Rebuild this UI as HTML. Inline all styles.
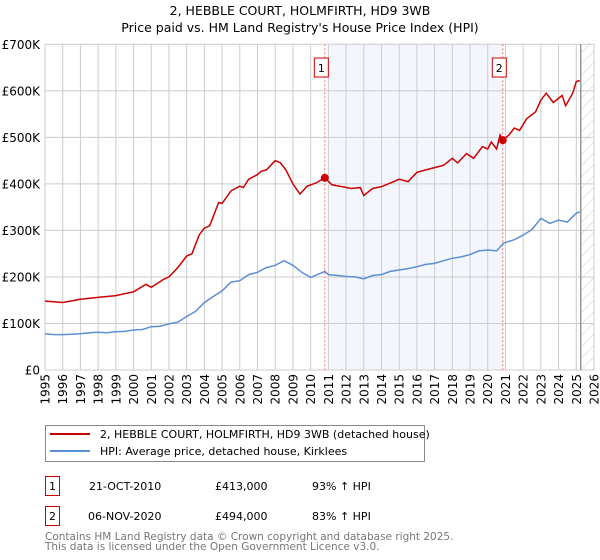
<!DOCTYPE html>
<html><head><meta charset="utf-8"><style>
body{margin:0;background:#fff;}
svg{display:block;font-family:"DejaVu Sans","Liberation Sans",sans-serif;}
</style></head><body>
<svg id="chart" width="600" height="560" viewBox="0 0 600 560" xmlns="http://www.w3.org/2000/svg">
<text x="300" y="15" text-anchor="middle" font-size="12.5">2, HEBBLE COURT, HOLMFIRTH, HD9 3WB</text>
<text x="300" y="32" text-anchor="middle" font-size="12.5">Price paid vs. HM Land Registry's House Price Index (HPI)</text>
<g id="plot"></g>
<g>
<rect x="45.5" y="425.5" width="379" height="36" fill="#fff" stroke="#888"/>
<line x1="50" y1="434" x2="90" y2="434" stroke="#cc0000" stroke-width="2"/>
<text x="100" y="438" font-size="11">2, HEBBLE COURT, HOLMFIRTH, HD9 3WB (detached house)</text>
<line x1="50" y1="451" x2="90" y2="451" stroke="#5b8fd4" stroke-width="2"/>
<text x="100" y="455" font-size="11">HPI: Average price, detached house, Kirklees</text>
</g>
<g font-size="11">
<rect x="45.5" y="476.5" width="14" height="19" fill="#fff" stroke="#cc0000"/>
<text x="52.5" y="490" text-anchor="middle">1</text>
<text x="89" y="490">21-OCT-2010</text><text x="215" y="490">£413,000</text><text x="312" y="490">93% ↑ HPI</text>
<rect x="45.5" y="506.5" width="14" height="19" fill="#fff" stroke="#cc0000"/>
<text x="52.5" y="520" text-anchor="middle">2</text>
<text x="88" y="520">06-NOV-2020</text><text x="215" y="520">£494,000</text><text x="312" y="520">83% ↑ HPI</text>
</g>
<text x="45" y="540" font-size="10.5" fill="#777">Contains HM Land Registry data © Crown copyright and database right 2025.</text>
<text x="45" y="550" font-size="10.5" fill="#777">This data is licensed under the Open Government Licence v3.0.</text>
</svg>
<script>
const hpiYears=[1995,1995.5,1996,1996.5,1997,1997.5,1998,1998.5,1999,1999.5,2000,2000.5,2001,2001.5,2002,2002.5,2003,2003.5,2004,2004.5,2005,2005.5,2006,2006.5,2007,2007.5,2008,2008.5,2009,2009.5,2010,2010.5,2010.8,2011,2011.5,2012,2012.5,2013,2013.5,2014,2014.5,2015,2015.5,2016,2016.5,2017,2017.5,2018,2018.5,2019,2019.5,2020,2020.5,2020.9,2021.5,2022,2022.5,2023,2023.5,2024,2024.5,2025,2025.2];
const hpiValues=[78,76,76,77,78,80,81,80,82,83,86,87,93,94,99,103,115,126,145,158,170,189,192,205,210,220,225,235,225,210,199,207,212,205,203,201,200,196,203,205,212,215,218,222,227,229,235,240,243,248,256,258,256,273,280,290,302,326,315,322,318,337,340];
const ppYears=[1995,1996,1997,1998,1999,2000,2000.7,2001,2001.7,2002,2002.5,2003,2003.3,2003.7,2004,2004.3,2004.8,2005,2005.5,2006,2006.2,2006.5,2007,2007.2,2007.5,2008,2008.3,2008.6,2009,2009.4,2009.8,2010.3,2010.8,2011.2,2011.8,2012.3,2012.8,2013,2013.5,2014,2014.7,2015,2015.5,2016,2016.5,2017,2017.5,2018,2018.3,2018.8,2019.2,2019.7,2020,2020.2,2020.5,2020.7,2020.85,2021.2,2021.5,2021.8,2022.2,2022.7,2023,2023.3,2023.7,2024.2,2024.4,2024.8,2025,2025.2];
const ppValues=[148,145,152,156,160,168,184,178,195,200,220,245,250,290,305,310,360,358,385,395,392,410,420,427,430,450,445,430,400,378,395,402,413,398,394,390,392,375,390,394,405,410,405,425,430,435,440,455,445,465,455,480,475,490,475,505,494,505,520,515,540,555,580,595,575,590,568,595,620,622];
const saleYears=[2010.8,2020.85];
const saleValues=[413,494];
const saleLabels=["1","2"];
const yTicks=[0,100,200,300,400,500,600,700];
const yTickLabels=["£0","£100K","£200K","£300K","£400K","£500K","£600K","£700K"];
const xTicks=[1995,1996,1997,1998,1999,2000,2001,2002,2003,2004,2005,2006,2007,2008,2009,2010,2011,2012,2013,2014,2015,2016,2017,2018,2019,2020,2021,2022,2023,2024,2025,2026];
const shadeRange=[2011.0,2020.85];
const forecastStart=2025.25;

const X0=45,X1=594,Y0=370,Y1=44.3;
const xs=v=>X0+(v-1995)/(2026-1995)*(X1-X0);
const ys=v=>Y0-v/700*(Y0-Y1);
const NS="http://www.w3.org/2000/svg";
const plot=document.getElementById('plot');
function mk(tag,attrs,parent){const e=document.createElementNS(NS,tag);for(const k in attrs)e.setAttribute(k,attrs[k]);(parent||plot).appendChild(e);return e;}
// hatch pattern
const defs=mk('defs',{});
const pat=mk('pattern',{id:'hatch',width:8,height:8,patternUnits:'userSpaceOnUse',patternTransform:'rotate(45)'},defs);
mk('line',{x1:0,y1:0,x2:0,y2:8,stroke:'#ccc','stroke-width':1},pat);
let r=mk('rect',{x:xs(shadeRange[0]),y:Y1,width:xs(shadeRange[1])-xs(shadeRange[0]),height:Y0-Y1,fill:'#eef3fc',opacity:0.7});


r=mk('rect',{x:xs(forecastStart),y:Y1,width:X1-xs(forecastStart),height:Y0-Y1,fill:'url(#hatch)'});


xTicks.forEach(t=>{const l=mk('line',{x1:xs(t),y1:Y1,x2:xs(t),y2:Y0,stroke:'#ccc','stroke-width':1});


const tx=mk('text',{x:0,y:0,'font-size':12,'text-anchor':'end',transform:`translate(${xs(t)+4.5},374) rotate(-90)`});tx.textContent=t;

});
yTicks.forEach((t,i)=>{const l=mk('line',{x1:X0,y1:ys(t),x2:X1,y2:ys(t),stroke:'#ccc','stroke-width':1});


const tx=mk('text',{x:40,y:ys(t)+4.5,'font-size':12,'text-anchor':'end'});tx.textContent=yTickLabels[i];

});
const fl=mk('line',{x1:xs(forecastStart),y1:Y1,x2:xs(forecastStart),y2:Y0,stroke:'#999','stroke-width':1.5});


saleYears.forEach((y,i)=>{const l=mk('line',{x1:xs(y),y1:Y1,x2:xs(y),y2:Y0,stroke:'#f07070','stroke-width':1,'stroke-dasharray':'2,2'});


const b=mk('rect',{x:xs(y)-10.5,y:58,width:14,height:19,fill:'#fff',stroke:'#cc0000'});


const t=mk('text',{x:xs(y)-3.5,y:72,'font-size':11,'text-anchor':'middle'});t.textContent=saleLabels[i];

});
const line=(xv,yv)=>xv.map((x,i)=>(i?'L':'M')+xs(x).toFixed(1)+','+ys(yv[i]).toFixed(1)).join('');
let p=mk('path',{d:line(hpiYears,hpiValues),fill:'none',stroke:'#5b8fd4','stroke-width':1.5});


p=mk('path',{d:line(ppYears,ppValues),fill:'none',stroke:'#cc0000','stroke-width':1.5});


saleYears.forEach((y,i)=>{const c=mk('circle',{cx:xs(y),cy:ys(saleValues[i]),r:4,fill:'#cc0000'});

});
</script>
</body></html>
